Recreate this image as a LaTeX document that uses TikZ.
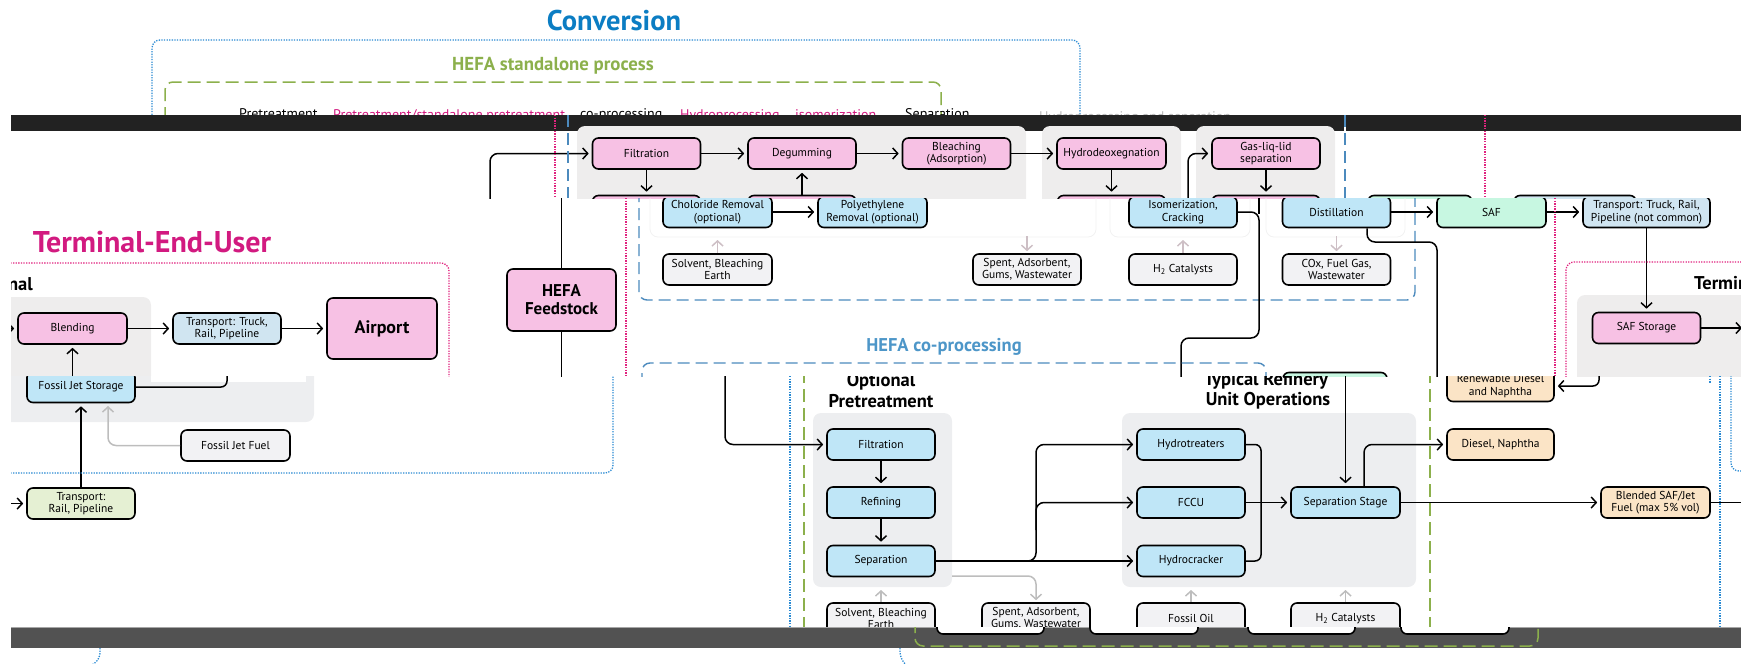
\documentclass[tikz,border=0pt]{standalone}
\usepackage{fontspec}
\setmainfont{PT Sans}
\usetikzlibrary{arrows.meta}
\definecolor{pinkF}{HTML}{F7C1E4}
\definecolor{blueF}{HTML}{BFE6F7}
\definecolor{ltblueF}{HTML}{D0E5F1}
\definecolor{mintF}{HTML}{C7F7E1}
\definecolor{peachF}{HTML}{FBE4C6}
\definecolor{greenF}{HTML}{E5F0D3}
\definecolor{greyF}{HTML}{F2F2F4}
\definecolor{panelA}{HTML}{EEEDED}
\definecolor{panelC}{HTML}{EDEEF0}
\definecolor{convblue}{HTML}{0B7DC3}
\definecolor{tmag}{HTML}{D21A80}
\definecolor{hgreen}{HTML}{8CB04C}
\definecolor{cpblue}{HTML}{4D96C8}
\definecolor{dashblue}{HTML}{4C8ABD}
\definecolor{dotblue}{HTML}{2B8BD3}
\definecolor{dotpink}{HTML}{E0237F}
\definecolor{garrow}{HTML}{BDBDBD}
\definecolor{garrowp}{HTML}{CDBFC5}
\definecolor{bandA}{HTML}{222222}
\definecolor{bandB}{HTML}{525252}
\begin{document}
\begin{tikzpicture}[x=1pt,y=-1pt,
  box/.style={draw=black, line width=1.6pt, rounded corners=6pt, align=center, inner sep=0pt, minimum width=108pt, minimum height=31pt, font=\fontsize{11.5}{12.5}\selectfont},
  pinkb/.style={box, fill=pinkF},
  blueb/.style={box, fill=blueF},
  ltblueb/.style={box, fill=ltblueF},
  mintb/.style={box, fill=mintF},
  peachb/.style={box, fill=peachF},
  greenb/.style={box, fill=greenF},
  greyb/.style={box, fill=greyF},
  conn/.style={draw=black, line width=1.5pt},
  arr/.style={conn, shorten >=3pt, -{Straight Barb[length=5pt,width=11pt]}},
  garr/.style={draw=garrow, line width=1.5pt, shorten >=2pt, -{Straight Barb[length=5pt,width=11pt]}},
  garrp/.style={garr, draw=garrowp},
  bluedot/.style={draw=dotblue, line width=1.3pt, dash pattern=on 1.3pt off 1.3pt},
  pinkdot/.style={draw=dotpink, line width=1.3pt, dash pattern=on 1.3pt off 1.3pt},
  bluedash/.style={draw=dashblue, line width=1.4pt, dash pattern=on 12pt off 6pt},
  greendash/.style={draw=hgreen, line width=1.5pt, dash pattern=on 13pt off 6pt},
  head/.style={font=\fontsize{18.5}{19}\selectfont\bfseries, inner sep=0pt},
  garb/.style={anchor=base west, inner sep=0pt, font=\fontsize{14}{14}\selectfont},
]
\useasboundingbox (0,0) rectangle (1741,664);
\clip (0,0) rectangle (1741,664);

% ---------------- top region ----------------
\begin{scope}
\clip (0,0) rectangle (1741,115);
\node[font=\fontsize{28.5}{29}\selectfont\bfseries, text=convblue] (conv) at (614,21) {Conversion};
\draw[bluedot, rounded corners=8pt] (152,120) -- (152,40) -- (1080,40) -- (1080,120);
\node[font=\fontsize{18.8}{19}\selectfont\bfseries, text=hgreen] (hsp) at (553,66) {HEFA standalone process};
\draw[greendash, rounded corners=8pt] (165,120) -- (165,82) -- (941,82) -- (941,120);
\node[garb] (g1) at (239,118) {Pretreatment};
\node[garb, text=tmag] (g2) at (333,119) {Pretreatment/standalone pretreatment};
\node[garb] (g3) at (580,118) {co-processing};
\node[garb, text=tmag] (g4) at (680,119) {Hydroprocessing};
\node[garb, text=tmag] (g5) at (795,119) {isomerization};
\node[garb] (g6) at (905,118) {Separation};
\node[garb, text=black!28] (g8) at (1039,121) {Hydroprocessing and separation};
\end{scope}

% dark band
\fill[bandA] (11,115) rectangle (1741,131);

% ---------------- strip A ----------------
\begin{scope}
\clip (11,115) rectangle (1741,198);
\fill[panelA, rounded corners=8pt] (577,126) rectangle (1026,215);
\fill[panelA, rounded corners=8pt] (1042,126) rectangle (1181,215);
\fill[panelA, rounded corners=8pt] (1196,126) rectangle (1335,215);
\node[pinkb] (filtA) at (646.5,153.5) {Filtration};
\node[pinkb] (degA) at (802,153.5) {Degumming};
\node[pinkb] (bleA) at (956.5,153.5) {Bleaching\\(Adsorption)};
\node[pinkb, minimum width=109pt] (hdoA) at (1111.5,153.5) {Hydrodeoxegnation};
\node[pinkb] (glA) at (1266,153.5) {Gas-liq-lid\\separation};
\node[pinkb] (lowA1) at (646.5,211) {};
\node[pinkb] (lowA2) at (802,211) {};
\node[pinkb] (lowA3) at (1111.5,211) {};
\node[pinkb] (lowA4) at (1266,211) {};
\node[mintb, minimum width=104pt] (lowA5) at (1420,211) {};
\node[ltblueb, minimum width=122pt] (lowA6) at (1575,211) {};
\draw[arr] (filtA) -- (degA);
\draw[arr] (degA) -- (bleA);
\draw[arr] (bleA) -- (hdoA);
\draw[arr] (filtA) -- (lowA1);
\draw[arr] (lowA2) -- (degA);
\draw[arr] (hdoA) -- (lowA3);
\draw[arr] (glA) -- (lowA4);
\coordinate (inA) at (490,200);
\draw[arr, rounded corners=8pt] (inA) |- (filtA.west);
\coordinate (inB) at (1188,200);
\draw[arr, rounded corners=8pt] (inB) |- (glA.west);
\draw[pinkdot] (555,115) -- (555,198);
\draw[bluedash] (568,115) -- (568,198);
\draw[white, line width=2.5pt] (1345,115) -- (1345,131);
\draw[bluedash] (1345,115) -- (1345,198);
\draw[pinkdot] (1485,115) -- (1485,198);
\end{scope}

% ---------------- strip B ----------------
\begin{scope}
\clip (11,198) rectangle (1741,376);
\node[font=\fontsize{30}{31}\selectfont\bfseries, text=tmag] (teu) at (152,242) {Terminal-End-User};
\draw[pinkdot, rounded corners=8pt] (0,263) -- (449,263) -- (449,380);
\node[head, anchor=east] (termL) at (33,284) {Terminal};
\fill[panelA, rounded corners=8pt] (-10,297) rectangle (151,400);
\node[pinkb, minimum width=109pt] (blend) at (72.5,328.5) {Blending};
\node[ltblueb] (trk) at (227,328.5) {Transport: Truck,\\Rail, Pipeline};
\node[pinkb, minimum width=110pt, minimum height=61pt, font=\fontsize{18}{20}\selectfont\bfseries] (airport) at (382,328.5) {Airport};
\coordinate (blin) at (0,328.5);
\draw[arr] (blin) -- (blend);
\draw[arr] (blend) -- (trk);
\draw[arr] (trk) -- (airport);
\coordinate (blup) at (72.5,380);
\draw[arr] (blup) -- (blend);
\node[pinkb, minimum width=109pt, minimum height=62pt, font=\fontsize{17}{18}\selectfont\bfseries] (hefa) at (561.5,300) {HEFA\\Feedstock};
\coordinate (hefaT) at (561.5,198);
\coordinate (hefaB) at (561.5,380);
\draw[conn] (hefaT) -- (hefa);
\draw[conn] (hefa) -- (hefaB);
\draw[pinkdot] (626,198) -- (626,376);
\draw[bluedash, rounded corners=8pt] (639,190) -- (639,300) -- (1415,300) -- (1415,190);
\draw[black!5, line width=0.8pt, rounded corners=8pt] (650,180) rectangle (1096,237);
\draw[black!5, line width=0.8pt, rounded corners=8pt] (1110,180) rectangle (1250,237);
\draw[black!5, line width=0.8pt, rounded corners=8pt] (1266,180) rectangle (1405,237);
\node[blueb, minimum width=109pt] (chl) at (717.5,212) {Choloride Removal\\(optional)};
\node[blueb, minimum width=109pt] (poly) at (872.5,212) {Polyethylene\\Removal (optional)};
\draw[arr] (chl) -- (poly);
\node[greyb, minimum width=109pt] (solvA) at (717.5,269.5) {Solvent, Bleaching\\Earth};
\coordinate (solvAt) at (717.5,238);
\draw[garrp] (solvA) -- (solvAt);
\node[greyb] (spentA) at (1027,269.5) {Spent, Adsorbent,\\Gums, Wastewater};
\coordinate (spentAt) at (1027,236);
\draw[garrp] (spentAt) -- (spentA);
\node[blueb] (isom) at (1183,212) {Isomerization,\\Cracking};
\node[greyb] (h2A) at (1183,269.5) {H\textsubscript{2} Catalysts};
\coordinate (h2At) at (1183,238);
\draw[garrp] (h2A) -- (h2At);
\node[blueb] (dist) at (1336.5,212) {Distillation};
\node[greyb] (cox) at (1336.5,269.5) {COx, Fuel Gas,\\Wastewater};
\coordinate (coxt) at (1336.5,236);
\draw[garrp] (coxt) -- (cox);
\node[mintb, minimum width=109pt] (saf) at (1491.5,212) {SAF};
\node[ltblueb, minimum width=127pt] (trk2) at (1646.5,212) {Transport: Truck, Rail,\\Pipeline (not common)};
\draw[arr] (dist) -- (saf);
\draw[arr] (saf) -- (trk2);
\fill[panelA, rounded corners=8pt] (1577,295) rectangle (1760,400);
\node[pinkb] (safst) at (1646.5,328) {SAF Storage};
\draw[arr] (trk2) -- (safst);
\coordinate (safout) at (1745,328);
\draw[arr] (safst) -- (safout);
\node[head, anchor=west] (termR) at (1694,283) {Terminal};
\draw[pinkdot, rounded corners=8pt] (1566,380) -- (1566,262) -- (1750,262);
\draw[pinkdot] (1555,198) -- (1555,376);
\coordinate (isj) at (1181,380);
\draw[conn, rounded corners=8pt] (isom.east) -| (1259,338) -| (isj);
\coordinate (isup) at (1259,198);
\draw[conn] (isup) -- (1259,214);
\coordinate (dj) at (1437,380);
\draw[conn, rounded corners=8pt] ([xshift=30.5pt]dist.south) |- (1437,242) -- (dj);
\node[font=\fontsize{18.5}{19}\selectfont\bfseries, text=cpblue] (hcp) at (944,347) {HEFA co-processing};
\draw[bluedash, rounded corners=8pt] (642,385) -- (642,363) -- (1266,363) -- (1266,385);
\node[mintb, minimum width=104pt] (mintB) at (1335,388) {};
\end{scope}

% ---------------- strip C ----------------
\begin{scope}
\clip (11,376) rectangle (1741,627);
\fill[panelC, rounded corners=8pt] (-10,360) rectangle (314,422);
\fill[white] (151,376) rectangle (306,382);
\node[blueb] (fjs) at (81,387) {Fossil Jet Storage};
\coordinate (fjsu) at (227,370);
\draw[conn, rounded corners=6pt] (fjs.east) -| (fjsu);
\node[greenb] (trp) at (81,503.5) {Transport:\\Rail, Pipeline};
\coordinate (trpin) at (0,503.5);
\draw[arr] (trpin) -- (trp);
\draw[arr] (trp) -- (fjs);
\node[greyb, minimum width=109pt] (fjf) at (235.5,445.5) {Fossil Jet Fuel};
\coordinate (fjft) at (108,404);
\draw[garr, rounded corners=8pt] (fjf.west) -| (fjft);
\draw[bluedot, rounded corners=8pt] (0,473) -- (613,473) -- (613,370);
\draw[bluedot] (790,376) -- (790,627);
\draw[greendash] (804,370) -- (804,627);
\node[head] (optT) at (881,382) {Optional};
\node[head] (pretT) at (881,401) {Pretreatment};
\fill[panelC, rounded corners=8pt] (813,413) rectangle (952,587);
\node[blueb] (filtC) at (881,444.5) {Filtration};
\coordinate (hefaC) at (725,370);
\draw[arr, rounded corners=8pt] (hefaC) |- (filtC.west);
\node[blueb] (refC) at (881,502.5) {Refining};
\node[blueb] (sepC) at (881,561) {Separation};
\draw[arr] (filtC) -- (refC);
\draw[arr] (refC) -- (sepC);
\node[greyb] (solvC) at (881,618.5) {Solvent, Bleaching\\Earth};
\coordinate (solvCt) at (881,588);
\draw[garr] (solvC) -- (solvCt);
\node[greyb] (spentC) at (1036,618.5) {Spent, Adsorbent,\\Gums, Wastewater};
\coordinate (spentCs) at (952,576);
\draw[garr, rounded corners=8pt] (spentCs) -| (spentC.north);
\fill[panelC, rounded corners=8pt] (1122,413) rectangle (1416,587);
\node[blueb] (ht) at (1191,444.5) {Hydrotreaters};
\node[blueb] (fccu) at (1191,502.5) {FCCU};
\node[blueb] (hc) at (1191,561) {Hydrocracker};
\draw[arr] (sepC) -- (hc);
\coordinate (br1) at (1020,561);
\draw[arr, rounded corners=8pt] (br1) -| (1036,444.5) -- (ht.west);
\coordinate (br2) at (1036,530);
\draw[arr, rounded corners=8pt] (br2) |- (fccu.west);
\coordinate (mg) at (1261,502.5);
\draw[conn, rounded corners=6pt] (ht.east) -| (mg);
\draw[conn, rounded corners=6pt] (hc.east) -| (mg);
\node[blueb, minimum width=109pt] (sepS) at (1345.5,502.5) {Separation Stage};
\draw[arr] (fccu) -- (sepS);
\node[head] (typT) at (1266,381) {Typical Refinery};
\node[head] (uoT) at (1268,401) {Unit Operations};
\coordinate (sepin) at (1345.5,370);
\draw[arr] (sepin) -- (sepS);
\draw[greendash] (1430,370) -- (1430,627);
\node[peachb, minimum width=107pt] (dn) at (1500.5,444.5) {Diesel, Naphtha};
\draw[arr, rounded corners=8pt] ([xshift=18.5pt]sepS.north) |- (dn.west);
\node[peachb, minimum width=107pt] (rdn) at (1500.5,386) {Renewable Diesel\\and Naphtha};
\coordinate (rdin) at (1599,370);
\draw[arr, rounded corners=6pt] (rdin) |- (rdn.east);
\node[peachb, minimum width=109pt] (bsaf) at (1655.5,502.5) {Blended SAF/Jet\\Fuel (max 5\% vol)};
\draw[arr] (sepS) -- (bsaf);
\coordinate (bout) at (1745,502.5);
\draw[conn] (bsaf) -- (bout);
\draw[bluedot] (1720,376) -- (1720,627);
\draw[bluedot, rounded corners=8pt] (1731,370) -- (1731,471) -- (1750,471);
\draw[bluedot] (1710,376) -- (1710,383);
\node[greyb] (fo) at (1191,618.5) {Fossil Oil};
\node[greyb, minimum width=109pt] (h2C) at (1345.5,618.5) {H\textsubscript{2} Catalysts};
\coordinate (fot) at (1191,588);
\draw[garr] (fo) -- (fot);
\coordinate (h2Ct) at (1345.5,588);
\draw[garr] (h2C) -- (h2Ct);
\end{scope}

% ---------------- bottom band ----------------
\fill[bandB] (11,627) rectangle (1741,648);
\draw[black!35, line width=1pt] (11,627.5) -- (1741,627.5);
\begin{scope}
\clip (11,627) rectangle (1741,648);
\draw[fill=white, line width=1.6pt, rounded corners=6pt] (937,600) rectangle (1044,634);
\draw[fill=white, line width=1.6pt, rounded corners=6pt] (1090,600) rectangle (1198,634);
\draw[fill=white, line width=1.6pt, rounded corners=6pt] (1248,600) rectangle (1355,634);
\draw[fill=white, line width=1.6pt, rounded corners=6pt] (1401,600) rectangle (1509,634);
\draw[greendash, rounded corners=8pt] (915,620) -- (915,646) -- (1538,646) -- (1538,620);
\end{scope}
\draw[bluedot, rounded corners=6pt] (100,648) -- (100,659) -- (92,665);
\draw[bluedot, rounded corners=6pt] (900,648) -- (900,658) -- (907,666);
\end{tikzpicture}
\end{document}
